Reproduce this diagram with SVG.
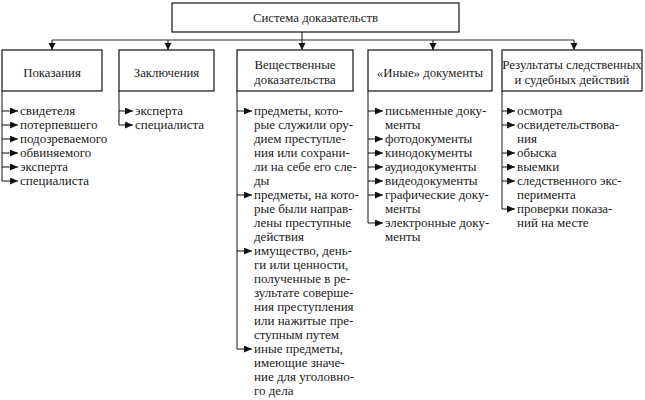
<svg xmlns="http://www.w3.org/2000/svg" width="645" height="400" viewBox="0 0 645 400">
<defs>
<marker id="ar" markerUnits="userSpaceOnUse" markerWidth="8" markerHeight="7" refX="8" refY="3.5" orient="auto"><path d="M0,0 L8,3.5 L0,7 z" fill="#111"/></marker>
<marker id="ad" markerUnits="userSpaceOnUse" markerWidth="8" markerHeight="8" refX="7" refY="3.5" orient="auto"><path d="M0,0 L7,3.5 L0,7 z" fill="#111"/></marker>
</defs>
<style>
text{font-family:"Liberation Serif","DejaVu Serif",serif;font-size:13px;fill:#1a1a1a}
.t{text-anchor:middle;font-size:12.8px}
.box{fill:#fff;stroke:#111;stroke-width:1.2}
.c{fill:none;stroke:#111;stroke-width:1}
.g{fill:none;stroke:#999;stroke-width:2}
</style>
<g id="connectors">
<path class="g" d="M52,40 H574"/>
<path class="c" d="M302,32 V50" marker-end="url(#ad)"/>
<path class="c" d="M52,40 V50" marker-end="url(#ad)"/>
<path class="c" d="M168,40 V50" marker-end="url(#ad)"/>
<path class="c" d="M433,40 V50" marker-end="url(#ad)"/>
<path class="c" d="M574,40 V50" marker-end="url(#ad)"/>
<path class="c" d="M2,91 V181"/>
<path class="c" d="M2,111 H18" marker-end="url(#ar)"/>
<path class="c" d="M2,125 H18" marker-end="url(#ar)"/>
<path class="c" d="M2,139 H18" marker-end="url(#ar)"/>
<path class="c" d="M2,153 H18" marker-end="url(#ar)"/>
<path class="c" d="M2,167 H18" marker-end="url(#ar)"/>
<path class="c" d="M2,181 H18" marker-end="url(#ar)"/>
<path class="c" d="M119,91 V125"/>
<path class="c" d="M119,111 H133" marker-end="url(#ar)"/>
<path class="c" d="M119,125 H133" marker-end="url(#ar)"/>
<path class="c" d="M237,91 V349"/>
<path class="c" d="M237,111 H252" marker-end="url(#ar)"/>
<path class="c" d="M237,195 H252" marker-end="url(#ar)"/>
<path class="c" d="M237,251 H252" marker-end="url(#ar)"/>
<path class="c" d="M237,349 H252" marker-end="url(#ar)"/>
<path class="c" d="M368,91 V223"/>
<path class="c" d="M368,111 H383" marker-end="url(#ar)"/>
<path class="c" d="M368,139 H383" marker-end="url(#ar)"/>
<path class="c" d="M368,153 H383" marker-end="url(#ar)"/>
<path class="c" d="M368,167 H383" marker-end="url(#ar)"/>
<path class="c" d="M368,181 H383" marker-end="url(#ar)"/>
<path class="c" d="M368,195 H383" marker-end="url(#ar)"/>
<path class="c" d="M368,223 H383" marker-end="url(#ar)"/>
<path class="c" d="M502,91 V209"/>
<path class="c" d="M502,111 H515" marker-end="url(#ar)"/>
<path class="c" d="M502,125 H515" marker-end="url(#ar)"/>
<path class="c" d="M502,153 H515" marker-end="url(#ar)"/>
<path class="c" d="M502,167 H515" marker-end="url(#ar)"/>
<path class="c" d="M502,181 H515" marker-end="url(#ar)"/>
<path class="c" d="M502,209 H515" marker-end="url(#ar)"/>
</g>
<g id="root">
<rect class="box" x="172" y="3" width="287" height="29"/>
<text class="t" x="315.5" y="22">Система доказательств</text>
</g>
<g id="pokazaniya">
<rect class="box" x="2" y="50" width="100" height="41"/>
<text class="t" x="52" y="77">Показания</text>
<text x="20" y="115">свидетеля</text>
<text x="20" y="129">потерпевшего</text>
<text x="20" y="143">подозреваемого</text>
<text x="20" y="157">обвиняемого</text>
<text x="20" y="171">эксперта</text>
<text x="20" y="185">специалиста</text>
</g>
<g id="zaklyucheniya">
<rect class="box" x="119" y="50" width="95" height="41"/>
<text class="t" x="166.5" y="77">Заключения</text>
<text x="135" y="115">эксперта</text>
<text x="135" y="129">специалиста</text>
</g>
<g id="veshchestvennye">
<rect class="box" x="237" y="50" width="116" height="41"/>
<text class="t" x="295" y="69">Вещественные</text>
<text class="t" x="295" y="84">доказательства</text>
<text x="254" y="115">предметы, кото-</text>
<text x="254" y="129">рые служили ору-</text>
<text x="254" y="143">дием преступле-</text>
<text x="254" y="157">ния или сохрани-</text>
<text x="254" y="171">ли на себе его сле-</text>
<text x="254" y="185">ды</text>
<text x="254" y="199">предметы, на кото-</text>
<text x="254" y="213">рые были направ-</text>
<text x="254" y="227">лены преступные</text>
<text x="254" y="241">действия</text>
<text x="254" y="255">имущество, день-</text>
<text x="254" y="269">ги или ценности,</text>
<text x="254" y="283">полученные в ре-</text>
<text x="254" y="297">зультате соверше-</text>
<text x="254" y="311">ния преступления</text>
<text x="254" y="325">или нажитые пре-</text>
<text x="254" y="339">ступным путем</text>
<text x="254" y="353">иные предметы,</text>
<text x="254" y="367">имеющие значе-</text>
<text x="254" y="381">ние для уголовно-</text>
<text x="254" y="395">го дела</text>
</g>
<g id="inye">
<rect class="box" x="368" y="50" width="124" height="41"/>
<text class="t" x="430" y="77">«Иные» документы</text>
<text x="385" y="115">письменные доку-</text>
<text x="385" y="129">менты</text>
<text x="385" y="143">фотодокументы</text>
<text x="385" y="157">кинодокументы</text>
<text x="385" y="171">аудиодокументы</text>
<text x="385" y="185">видеодокументы</text>
<text x="385" y="199">графические доку-</text>
<text x="385" y="213">менты</text>
<text x="385" y="227">электронные доку-</text>
<text x="385" y="241">менты</text>
</g>
<g id="rezultaty">
<rect class="box" x="502" y="50" width="140" height="41"/>
<text class="t" x="572" y="69">Результаты следственных</text>
<text class="t" x="572" y="84">и судебных действий</text>
<text x="517" y="115">осмотра</text>
<text x="517" y="129">освидетельствова-</text>
<text x="517" y="143">ния</text>
<text x="517" y="157">обыска</text>
<text x="517" y="171">выемки</text>
<text x="517" y="185">следственного экс-</text>
<text x="517" y="199">перимента</text>
<text x="517" y="213">проверки показа-</text>
<text x="517" y="227">ний на месте</text>
</g>
</svg>
